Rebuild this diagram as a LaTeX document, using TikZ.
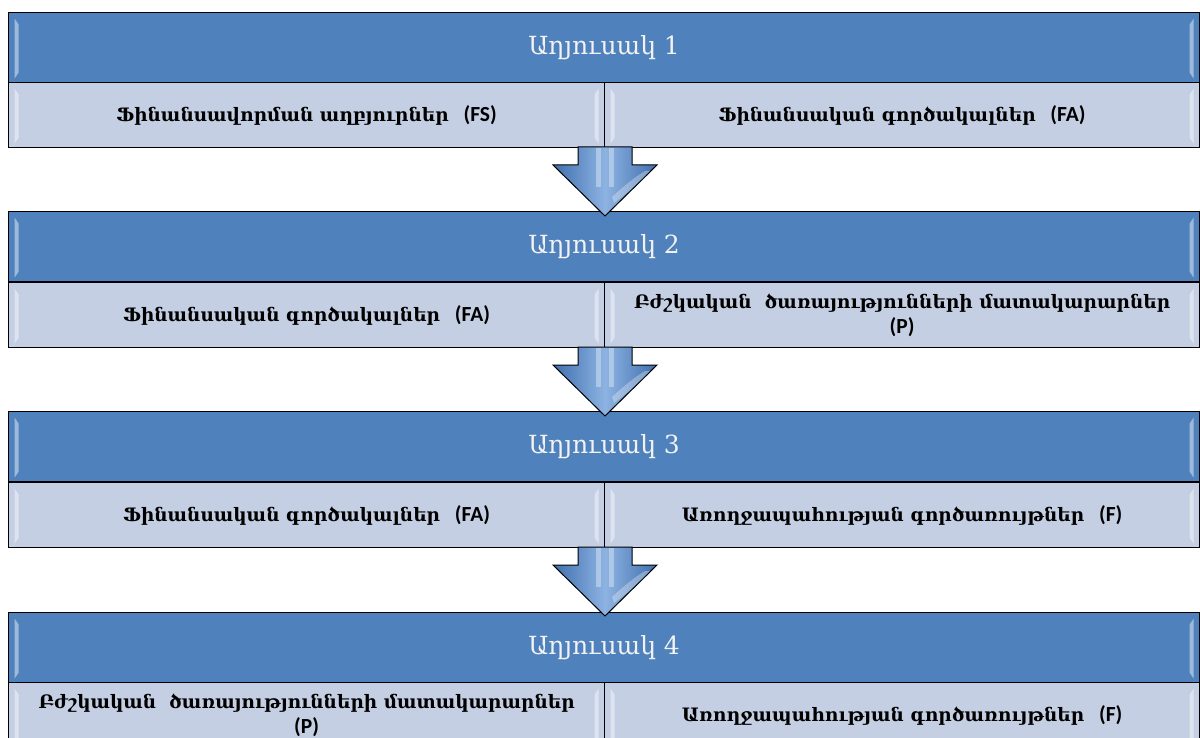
\documentclass[tikz,border=0pt]{standalone}
\usepackage{fontspec}
\setmainfont{DejaVu Serif}
\newfontfamily\lat{Carlito}
\usetikzlibrary{calc,shadows}
\definecolor{hdrblue}{HTML}{4F81BD}
\definecolor{cellblue}{HTML}{C4CFE3}
\definecolor{arrdark}{HTML}{3F6FAE}
\definecolor{arrlight}{HTML}{8DB3E2}
\tikzset{
  bevel/.style={path picture={
    \fill[white,opacity=.45] ($(path picture bounding box.north west)+(6,6)$) -- ++(4,6) -- ($(path picture bounding box.south west)+(10,-10)$) -- ++(-4,6) -- cycle;
    \fill[white,opacity=.45] ($(path picture bounding box.north east)+(-6,6)$) -- ++(-4,6) -- ($(path picture bounding box.south east)+(-10,-10)$) -- ++(4,6) -- cycle;
  }},
  hdrbox/.style={draw=black, line width=1.2pt, fill=hdrblue, anchor=north west,
    minimum width=1191pt, minimum height=70pt, inner sep=0pt, bevel,
    text=white!95!black, font=\fontsize{25}{28}\selectfont,
    drop shadow={opacity=0.25, shadow xshift=0pt, shadow yshift=-2pt}},
  cellbox/.style={draw=black, line width=1.2pt, fill=cellblue, anchor=north west,
    minimum height=65pt, inner sep=0pt, bevel, align=center,
    font=\fontsize{18.5}{25}\selectfont\bfseries},
  leftcell/.style={cellbox, minimum width=596pt},
  rightcell/.style={cellbox, minimum width=595pt},
  blockarrow/.style={draw=black, line width=1pt, left color=arrdark, right color=arrdark, middle color=arrlight},
  arrowgloss/.style={fill=white, opacity=.35}
}
\newcommand{\abbr}[1]{\hspace{0.8em}{\lat\bfseries\fontsize{21.5}{25}\selectfont #1}}
\newcommand{\abbrline}[1]{{\lat\bfseries\fontsize{21.5}{25}\selectfont #1}}
\begin{document}
\begin{tikzpicture}[x=1pt,y=-1pt]
\useasboundingbox (0,0) rectangle (1200,738);
\fill[white] (0,0) rectangle (1200,738);

% block 1
\node[hdrbox] (h1) at (8,12) {Աղյուսակ 1};
\node[leftcell] (l1) at (8,82) {Ֆինանսավորման աղբյուրներ\abbr{(FS)}};
\node[rightcell] (r1) at (604,82) {Ֆինանսական գործակալներ\abbr{(FA)}};

% block 2
\node[hdrbox] (h2) at (8,211) {Աղյուսակ 2};
\node[leftcell] (l2) at (8,282) {Ֆինանսական գործակալներ\abbr{(FA)}};
\node[rightcell] (r2) at (604,282) {Բժշկական\ \ ծառայությունների մատակարարներ\\\abbrline{(P)}};

% block 3
\node[hdrbox] (h3) at (8,411) {Աղյուսակ 3};
\node[leftcell] (l3) at (8,482) {Ֆինանսական գործակալներ\abbr{(FA)}};
\node[rightcell] (r3) at (604,482) {Առողջապահության գործառույթներ\abbr{(F)}};

% block 4
\node[hdrbox] (h4) at (8,612) {Աղյուսակ 4};
\node[leftcell] (l4) at (8,682) {Բժշկական\ \ ծառայությունների մատակարարներ\\\abbrline{(P)}};
\node[rightcell] (r4) at (604,682) {Առողջապահության գործառույթներ\abbr{(F)}};

% arrows
\foreach \t in {147,347,547}{
  \path[blockarrow] (578,\t) -- (632,\t) -- (632,\t+18) -- (657,\t+18) -- (605,\t+69) -- (553,\t+18) -- (578,\t+18) -- cycle;
  \fill[arrowgloss] (596,\t+1) rectangle (601,\t+40);
  \fill[arrowgloss] (609,\t+1) rectangle (614,\t+40);
  \fill[white,opacity=.3] (612,\t+50) .. controls (625,\t+38) and (635,\t+30) .. (645,\t+24) -- (650,\t+24) .. controls (640,\t+34) and (628,\t+46) .. (614,\t+56) -- cycle;
}
\end{tikzpicture}
\end{document}
